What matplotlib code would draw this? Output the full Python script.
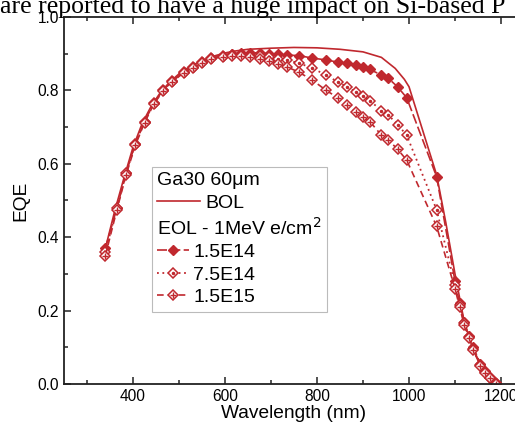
import numpy as np
import matplotlib.pyplot as plt
from matplotlib.ticker import MultipleLocator

plt.rcParams['font.family'] = ['Liberation Sans', 'DejaVu Sans']

red = '#c0282e'

# BOL curve (solid line)
wl_bol = [340, 360, 380, 400, 420, 440, 460, 480, 500, 520, 540, 560, 580, 600,
          620, 650, 700, 750, 800, 850, 900, 940, 970, 990, 1000, 1020, 1040,
          1060, 1080, 1100, 1120, 1140, 1160, 1180, 1195]
eqe_bol = [0.37, 0.47, 0.56, 0.645, 0.71, 0.758, 0.795, 0.823, 0.845, 0.862, 0.875,
           0.886, 0.895, 0.902, 0.907, 0.912, 0.915, 0.917, 0.916, 0.912, 0.905,
           0.89, 0.86, 0.83, 0.81, 0.73, 0.65, 0.57, 0.44, 0.30, 0.17, 0.09,
           0.045, 0.015, 0.0]

# EOL curves (1 MeV electrons)
wl = [340, 365, 385, 405, 425, 445, 465, 485, 510, 530, 550, 570, 595, 615, 635,
      655, 675, 695, 715, 735, 760, 790, 820, 845, 865, 885, 900, 915, 940, 955,
      975, 995, 1060, 1100, 1110, 1120, 1130, 1140, 1155, 1165, 1175, 1190]
eqe_15e14 = [0.37, 0.48, 0.575, 0.655, 0.715, 0.765, 0.80, 0.825, 0.85, 0.865,
             0.877, 0.888, 0.895, 0.90, 0.902, 0.903, 0.902, 0.90, 0.898, 0.896,
             0.895, 0.888, 0.883, 0.877, 0.874, 0.869, 0.864, 0.857, 0.842,
             0.833, 0.81, 0.78, 0.565, 0.28, 0.22, 0.17, 0.13, 0.10, 0.055,
             0.035, 0.018, 0.003]
eqe_75e14 = [0.36, 0.48, 0.575, 0.655, 0.715, 0.765, 0.80, 0.825, 0.85, 0.865,
             0.877, 0.888, 0.895, 0.897, 0.897, 0.895, 0.893, 0.89, 0.886, 0.882,
             0.875, 0.86, 0.842, 0.823, 0.81, 0.795, 0.785, 0.772, 0.745, 0.733,
             0.707, 0.678, 0.475, 0.27, 0.215, 0.165, 0.127, 0.095, 0.052, 0.032,
             0.016, 0.002]
eqe_15e15 = [0.35, 0.475, 0.57, 0.65, 0.712, 0.762, 0.798, 0.823, 0.848, 0.862,
             0.874, 0.885, 0.892, 0.895, 0.893, 0.89, 0.885, 0.88, 0.873, 0.864,
             0.85, 0.828, 0.80, 0.78, 0.76, 0.74, 0.728, 0.715, 0.678, 0.665,
             0.64, 0.61, 0.43, 0.26, 0.21, 0.16, 0.125, 0.092, 0.05, 0.03,
             0.015, 0.0]

fig = plt.figure(figsize=(5.15, 4.32), dpi=100)
ax = fig.add_axes([64 / 515, 48 / 432, 460 / 515, 367 / 432])

bol, = ax.plot(wl_bol, eqe_bol, '-', color=red, lw=1.2)
l1, = ax.plot(wl, eqe_15e14, color=red, lw=1.2, dashes=(6, 2),
              marker='D', ms=5, mfc=red, mec=red)
l2, = ax.plot(wl, eqe_75e14, color=red, lw=1.3, dashes=(1, 2),
              marker='D', ms=5, mfc='white', mec=red, mew=1.1)
d2, = ax.plot(wl, eqe_75e14, ls='none', marker='.', ms=3, color=red)
l3, = ax.plot(wl, eqe_15e15, color=red, lw=1.2, dashes=(4, 2.5),
              marker='D', ms=5, mfc='white', mec=red, mew=1.1)
d3, = ax.plot(wl, eqe_15e15, ls='none', marker='+', ms=5, mew=1, color=red)

ax.set_xlim(250, 1250)
ax.set_ylim(0, 1.0)
ax.xaxis.set_major_locator(MultipleLocator(200))
ax.xaxis.set_minor_locator(MultipleLocator(100))
ax.yaxis.set_major_locator(MultipleLocator(0.2))
ax.yaxis.set_minor_locator(MultipleLocator(0.1))
ax.tick_params(which='both', direction='in', top=True, right=True,
               labelsize=11.2, width=1.1, color='#222222')
ax.tick_params(which='major', length=5)
ax.tick_params(which='minor', length=3)
for s in ax.spines.values():
    s.set_linewidth(1.3)
    s.set_color('#222222')

ax.set_xlabel('Wavelength (nm)', fontsize=13.8, labelpad=1)
ax.set_ylabel('EQE', fontsize=13.8, labelpad=6)

fs = 14
blank, = ax.plot([], [], ls='none')
leg = ax.legend([bol, blank, (l1,), (l2, d2), (l3, d3)],
                ['BOL', 'EOL - 1MeV e/cm$^2$', '1.5E14', '7.5E14', '1.5E15'],
                title='Ga30 60\u03bcm', alignment='left', fontsize=fs,
                title_fontsize=fs, loc='upper left',
                bbox_to_anchor=(88 / 460, (384 - 167) / 367),
                fancybox=False, edgecolor='#bbbbbb', framealpha=1,
                borderpad=0.28, labelspacing=0.25, handlelength=1.6,
                handletextpad=0.25, borderaxespad=0)
leg.get_frame().set_linewidth(0.8)
items = leg._legend_handle_box.get_children()[0].get_children()
# longer line for BOL
bol_box = items[0].get_children()[0]
bol_box.width = 2.2 * fs
bol_line = leg.legend_handles[0]
ys = bol_line.get_ydata()
bol_line.set_data(np.linspace(0, 2.2 * fs, len(ys)), ys)
# header row without a handle
items[1].sep = 0
items[1].get_children()[0].width = 0

fig.text(0.0, 1 - 13.5 / 432, 'are reported to have a huge impact on Si-based P',
         family='Liberation Serif', fontsize=18.5, va='baseline')

fig.savefig('out.png', dpi=100)
